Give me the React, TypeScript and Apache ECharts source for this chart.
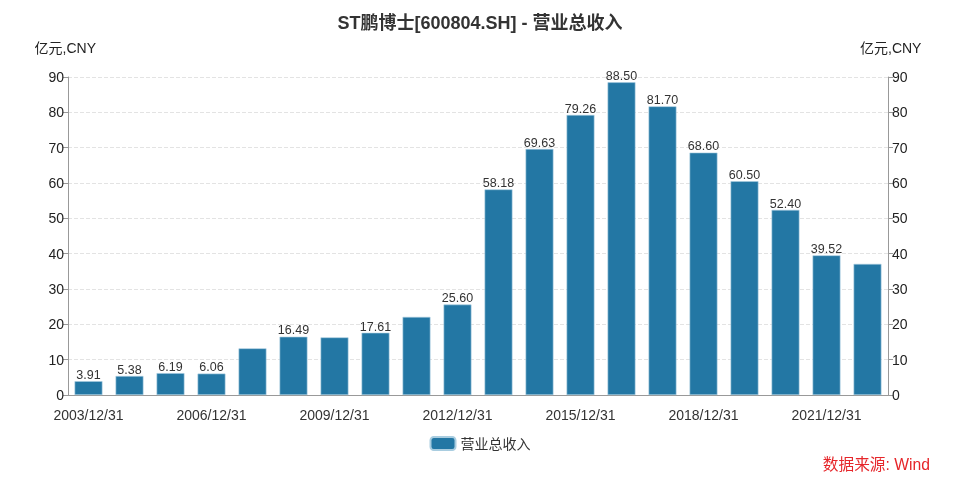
import React, { useEffect, useRef } from "react";
import * as echarts from "echarts";

const categories = [
  "2003/12/31", "2004/12/31", "2005/12/31", "2006/12/31", "2007/12/31",
  "2008/12/31", "2009/12/31", "2010/12/31", "2011/12/31", "2012/12/31",
  "2013/12/31", "2014/12/31", "2015/12/31", "2016/12/31", "2017/12/31",
  "2018/12/31", "2019/12/31", "2020/12/31", "2021/12/31", "2022/12/31",
];
const revenue = [
  3.91, 5.38, 6.19, 6.06, 13.2, 16.49, 16.3, 17.61, 22.1, 25.6,
  58.18, 69.63, 79.26, 88.5, 81.7, 68.6, 60.5, 52.4, 39.52, 37.1,
];
const labelShown = [
  true, true, true, true, false, true, false, true, false, true,
  true, true, true, true, true, true, true, true, true, false,
];
const yTicks = { min: 0, max: 90, interval: 10 };
const seriesName = "营业总收入";
const titleText = "ST鹏博士[600804.SH] - 营业总收入";
const unitName = "亿元,CNY";
const sourceText = "数据来源: Wind";

const FONT = "'Liberation Sans', 'Noto Sans CJK SC', sans-serif";

export default function App() {
  const ref = useRef<HTMLDivElement>(null);
  useEffect(() => {
    if (!ref.current) return;
    const chart = echarts.init(ref.current, undefined, { renderer: "svg" });
    const axisCommon = {
      type: "value" as const,
      min: yTicks.min,
      max: yTicks.max,
      interval: yTicks.interval,
      name: unitName,
      nameGap: 22,
      nameTextStyle: { color: "#222", fontSize: 14, fontFamily: FONT },
      axisLine: { show: true, lineStyle: { color: "#999" } },
      axisTick: { show: true, length: 5, lineStyle: { color: "#999" } },
      axisLabel: { color: "#222", fontSize: 14, fontFamily: FONT, margin: 4 },
    };
    chart.setOption({
      animation: false,
      textStyle: { fontFamily: FONT },
      title: {
        text: titleText,
        left: "center",
        top: 9,
        textStyle: { fontSize: 18, fontWeight: "bold", color: "#333", fontFamily: FONT },
      },
      grid: { left: 68, right: 72, top: 77, bottom: 88 },
      legend: {
        bottom: 27,
        left: "center",
        itemWidth: 25,
        itemHeight: 13,
        icon: "roundRect",
        textStyle: { fontSize: 14, color: "#333", fontFamily: FONT },
        data: [seriesName],
      },
      graphic: [
        {
          type: "text",
          right: 30,
          bottom: 11,
          style: { text: sourceText, fill: "#e6262a", fontSize: 15.7, fontFamily: FONT },
        },
      ],
      xAxis: {
        type: "category",
        data: categories,
        axisLine: { lineStyle: { color: "#999" } },
        axisTick: { alignWithLabel: true, interval: 2, length: 5, lineStyle: { color: "#999" } },
        axisLabel: { interval: 2, color: "#333", fontSize: 14, fontFamily: FONT, margin: 13 },
      },
      yAxis: [
        {
          ...axisCommon,
          position: "left",
          nameTextStyle: { ...axisCommon.nameTextStyle, align: "right", padding: [0, -28, 0, 0] },
          splitLine: { show: true, lineStyle: { color: "#e3e3e3", type: "dashed" } },
        },
        {
          ...axisCommon,
          position: "right",
          nameTextStyle: { ...axisCommon.nameTextStyle, align: "left", padding: [0, 0, 0, -28] },
          splitLine: { show: false },
        },
      ],
      series: [
        {
          name: seriesName,
          type: "bar",
          barWidth: "68%",
          itemStyle: { color: "#2377a4", borderColor: "#a9cde0", borderWidth: 0.6 },
          data: revenue.map((v, i) => ({
            value: v,
            label: {
              show: labelShown[i],
              position: "top",
              distance: 0,
              formatter: (p: any) => Number(p.value).toFixed(2),
              color: "#333",
              fontSize: 12.5,
              fontFamily: FONT,
            },
          })),
        },
      ],
    });
    return () => chart.dispose();
  }, []);
  return (
    <div
      ref={ref}
      style={{ position: "fixed", left: 0, top: 0, width: 960, height: 483 }}
    />
  );
}
